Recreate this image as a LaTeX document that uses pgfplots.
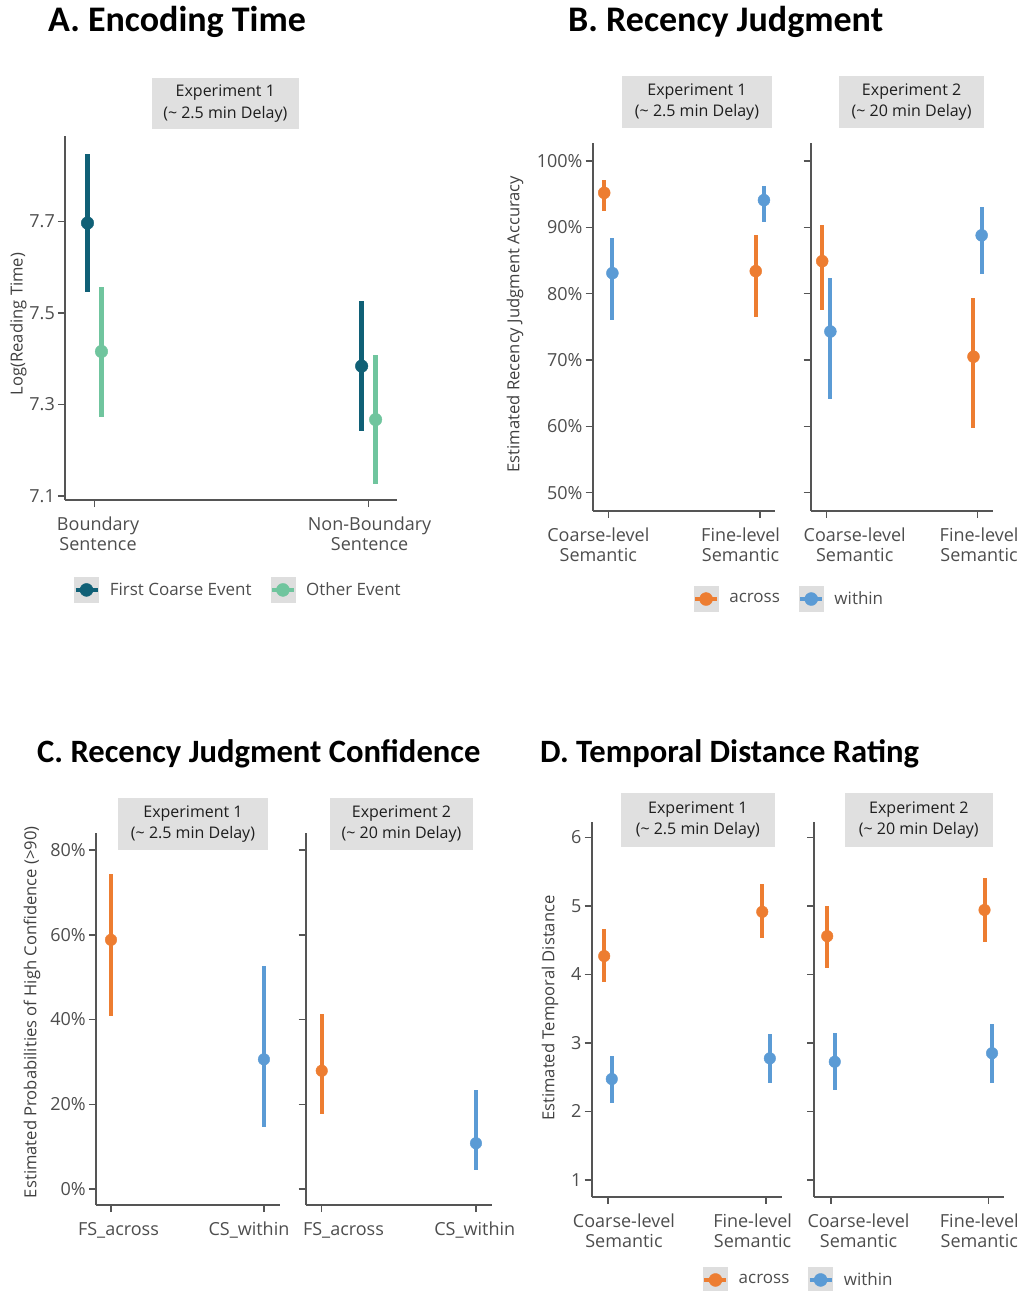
\documentclass[border=0pt]{standalone}
\usepackage{fontspec}
\setmainfont{Open Sans}
\newfontfamily\titlefont{Carlito}
\usepackage{pgfplots}
\usepackage{pgfplotstable}
\pgfplotsset{compat=1.18}

\definecolor{teal1}{RGB}{16,96,118}
\definecolor{mint}{RGB}{112,197,158}
\definecolor{orng}{RGB}{237,125,49}
\definecolor{blu}{RGB}{91,155,213}
\definecolor{axgray}{RGB}{85,85,85}
\definecolor{txtgray}{RGB}{77,77,77}
\definecolor{labgray}{RGB}{64,64,64}
\definecolor{stripbg}{RGB}{224,224,224}
\definecolor{stripgray}{RGB}{30,30,30}
\definecolor{keybg}{RGB}{222,222,222}

\newcommand\tickfont{\fontsize{18}{20}\selectfont}
\newcommand\labfont{\fontsize{16.6}{19}\selectfont}
\newcommand\legfont{\fontsize{17}{20}\selectfont}
\newcommand\stripfont{\fontsize{16}{21.4}\selectfont}
\newcommand\ttlfont{\titlefont\bfseries\fontsize{36}{40}\selectfont}
\newcommand\ttlfontb{\titlefont\bfseries\fontsize{32.6}{36}\selectfont}

% panel A: x (dodged) y lo hi
\pgfplotstableread{
x y lo hi
0.975 7.697 7.547 7.849
1.975 7.384 7.242 7.527
}\Afirst
\pgfplotstableread{
x y lo hi
1.026 7.416 7.273 7.558
2.026 7.267 7.127 7.409
}\Aother
% panel B
\pgfplotstableread{
x y lo hi
0.973 95.2 92.5 97.1
1.973 83.4 76.5 88.8
}\Bonea
\pgfplotstableread{
x y lo hi
1.027 83.1 76.0 88.4
2.027 94.1 90.8 96.3
}\Bonew
\pgfplotstableread{
x y lo hi
0.973 84.9 77.5 90.3
1.973 70.5 59.7 79.3
}\Btwoa
\pgfplotstableread{
x y lo hi
1.027 74.3 64.2 82.3
2.027 88.8 82.9 93.0
}\Btwow
% panel C
\pgfplotstableread{
x y lo hi
1 58.8 40.8 74.3
}\Conea
\pgfplotstableread{
x y lo hi
2 30.6 14.7 52.7
}\Conew
\pgfplotstableread{
x y lo hi
1 27.9 17.6 41.2
}\Ctwoa
\pgfplotstableread{
x y lo hi
2 10.8 4.6 23.4
}\Ctwow
% panel D
\pgfplotstableread{
x y lo hi
0.976 4.267 3.89 4.656
1.976 4.913 4.525 5.317
}\Donea
\pgfplotstableread{
x y lo hi
1.024 2.473 2.127 2.81
2.024 2.775 2.42 3.13
}\Donew
\pgfplotstableread{
x y lo hi
0.976 4.558 4.10 5.00
1.976 4.94 4.475 5.40
}\Dtwoa
\pgfplotstableread{
x y lo hi
1.024 2.725 2.31 3.15
2.024 2.85 2.42 3.27
}\Dtwow

\pgfplotsset{
  panel/.style={
    scale only axis, clip=false, anchor=south west,
    axis x line=bottom, axis y line=left,
    axis line style={-, draw=axgray, line width=1.8pt},
    tick style={draw=axgray, line width=1.5pt},
    major tick length=7pt, tick align=outside,
    xtick={1,2}, xticklabels={},
    ticklabel style={font=\tickfont, text=txtgray},
    yticklabel style={inner sep=0pt, xshift=-3pt},
    extra x tick style={major tick length=0pt,
      xticklabel style={align=center, anchor=north, inner sep=0pt, yshift=-17pt}},
    ylabel style={font=\labfont, text=labgray, anchor=center},
  },
  keyimg/.style={legend image code/.code={%
    \fill[keybg] (0pt,-12.5pt) rectangle (24pt,12.5pt);
    \draw[line width=4.5pt] (1pt,0pt) -- (23pt,0pt);
    \fill (12pt,0pt) circle (6.5pt);}},
  keylegend/.style={legend style={font=\legfont, text=txtgray, draw=none, fill=none,
    legend columns=2, anchor=center, inner sep=0pt,
    /tikz/every odd column/.append style={column sep=10pt},
    /tikz/every even column/.append style={column sep=18pt},
    nodes={inner sep=0pt}}, legend cell align=left},
}
% one point-range series: colour, dot radius, bar width, then the table
\newcommand\pr[3]{\addplot[#1, keyimg, only marks, mark=*, mark size=#2,
  error bars/.cd, y dir=both, y explicit, error mark=none,
  error bar style={line width=#3, solid}]
  table[x=x, y=y, y error plus expr=\thisrow{hi}-\thisrow{y},
        y error minus expr=\thisrow{y}-\thisrow{lo}]}

\tikzset{strip/.style={fill=stripbg, inner sep=0pt, align=center, font=\stripfont, text=stripgray}}

\begin{document}
\begin{tikzpicture}
\path[use as bounding box] (0pt,0pt) rectangle (1027pt,-1291pt);

% ---------- A. Encoding Time ----------
\begin{axis}[panel, keylegend, at={(65pt,-500pt)}, width=332pt, height=364pt,
  xmin=0.893, xmax=2.104, ymin=7.091, ymax=7.8875,
  ytick={7.1,7.3,7.5,7.7}, yticklabels={7.1,7.3,7.5,7.7},
  extra x ticks={1.0135,2.004},
  extra x tick labels={{Boundary\\Sentence},{Non-Boundary\\Sentence}},
  ylabel={Log(Reading Time)},
  ylabel style={at={(axis description cs:-0.1407,0.4835)}},
  legend style={at={(0.518,-0.247)}}]
\pr{teal1}{6.3pt}{4.5pt} {\Afirst};
\addlegendentry{First Coarse Event}
\pr{mint}{6.3pt}{4.5pt} {\Aother};
\addlegendentry{Other Event}
\end{axis}

% ---------- B. Recency Judgment ----------
\begin{axis}[panel, keylegend, at={(592.7pt,-510.7pt)}, width=182.3pt, height=368pt,
  xmin=0.897, xmax=2.1, ymin=47.29, ymax=102.76,
  ytick={50,60,70,80,90,100}, yticklabels={50\%,60\%,70\%,80\%,90\%,100\%},
  extra x ticks={0.934,1.873},
  extra x tick labels={{Coarse-level\\Semantic},{Fine-level\\Semantic}},
  ylabel={Estimated Recency Judgment Accuracy},
  ylabel style={at={(axis description cs:-0.426,0.507)}},
  legend style={at={(1.0713,-0.24)}}]
\pr{orng}{6pt}{4pt} {\Bonea};
\addlegendentry{across}
\pr{blu}{6pt}{4pt} {\Bonew};
\addlegendentry{within}
\end{axis}
\begin{axis}[panel, at={(810.7pt,-510.7pt)}, width=182pt, height=368pt,
  xmin=0.897, xmax=2.1, ymin=47.29, ymax=102.76,
  ytick={50,60,70,80,90,100}, yticklabels={},
  extra x ticks={1.188,2.01},
  extra x tick labels={{Coarse-level\\Semantic},{Fine-level\\Semantic}}]
\pr{orng}{6pt}{4pt} {\Btwoa};
\pr{blu}{6pt}{4pt} {\Btwow};
\end{axis}

% ---------- C. Recency Judgment Confidence ----------
\begin{axis}[panel, at={(96pt,-1205pt)}, width=184pt, height=371.7pt,
  xmin=0.902, xmax=2.105, ymin=-3.776, ymax=83.94,
  ytick={0,20,40,60,80}, yticklabels={0\%,20\%,40\%,60\%,80\%},
  extra x ticks={1.049,1.902},
  extra x tick labels={FS\_across,CS\_within},
  ylabel={Estimated Probabilities of High Confidence (>90)},
  ylabel style={at={(axis description cs:-0.348,0.519)}}]
\pr{orng}{5.8pt}{4pt} {\Conea};
\pr{blu}{5.8pt}{4pt} {\Conew};
\end{axis}
\begin{axis}[panel, at={(305.7pt,-1205pt)}, width=186pt, height=371.7pt,
  xmin=0.896, xmax=2.102, ymin=-3.776, ymax=83.94,
  ytick={0,20,40,60,80}, yticklabels={},
  extra x ticks={1.141,1.992},
  extra x tick labels={FS\_across,CS\_within}]
\pr{orng}{5.8pt}{4pt} {\Ctwoa};
\pr{blu}{5.8pt}{4pt} {\Ctwow};
\end{axis}

% ---------- D. Temporal Distance Rating ----------
\begin{axis}[panel, keylegend, at={(591.7pt,-1196.7pt)}, width=190pt, height=375pt,
  xmin=0.897, xmax=2.099, ymin=0.756, ymax=6.228,
  ytick={1,2,3,4,5,6}, yticklabels={1,2,3,4,5,6},
  extra x ticks={1.101,1.915},
  extra x tick labels={{Coarse-level\\Semantic},{Fine-level\\Semantic}},
  ylabel={Estimated Temporal Distance},
  ylabel style={at={(axis description cs:-0.2195,0.503)}},
  legend style={at={(1.0826,-0.222)}}]
\pr{orng}{5.8pt}{4pt} {\Donea};
\addlegendentry{across}
\pr{blu}{5.8pt}{4pt} {\Donew};
\addlegendentry{within}
\end{axis}
\begin{axis}[panel, at={(814pt,-1196.7pt)}, width=190pt, height=375pt,
  xmin=0.892, xmax=2.10, ymin=0.756, ymax=6.228,
  ytick={1,2,3,4,5,6}, yticklabels={},
  extra x ticks={1.175,1.943},
  extra x tick labels={{Coarse-level\\Semantic},{Fine-level\\Semantic}}]
\pr{orng}{5.8pt}{4pt} {\Dtwoa};
\pr{blu}{5.8pt}{4pt} {\Dtwow};
\end{axis}

% facet strips
\node[strip, minimum width=147.3pt, minimum height=51.3pt] at (225.3pt,-103.4pt) {Experiment 1\\(\textasciitilde{} 2.5 min Delay)};
\node[strip, minimum width=149.4pt, minimum height=52.4pt] at (697pt,-102.2pt) {Experiment 1\\(\textasciitilde{} 2.5 min Delay)};
\node[strip, minimum width=144.7pt, minimum height=52.4pt] at (911.6pt,-102.2pt) {Experiment 2\\(\textasciitilde{} 20 min Delay)};
\node[strip, minimum width=150pt, minimum height=52.3pt] at (193pt,-823.8pt) {Experiment 1\\(\textasciitilde{} 2.5 min Delay)};
\node[strip, minimum width=143pt, minimum height=52.3pt] at (401.5pt,-823.8pt) {Experiment 2\\(\textasciitilde{} 20 min Delay)};
\node[strip, minimum width=154.3pt, minimum height=54pt] at (697.8pt,-820.3pt) {Experiment 1\\(\textasciitilde{} 2.5 min Delay)};
\node[strip, minimum width=147.7pt, minimum height=54pt] at (918.8pt,-820.3pt) {Experiment 2\\(\textasciitilde{} 20 min Delay)};

% panel titles
\node[anchor=base west, inner sep=0pt, font=\ttlfont] at (48pt,-31pt) {A. Encoding Time};
\node[anchor=base west, inner sep=0pt, font=\ttlfont] at (568pt,-31pt) {B. Recency Judgment};
\node[anchor=base west, inner sep=0pt, font=\ttlfontb] at (37pt,-762pt) {C. Recency Judgment Confidence};
\node[anchor=base west, inner sep=0pt, font=\ttlfontb] at (540pt,-762pt) {D. Temporal Distance Rating};
\end{tikzpicture}
\end{document}
